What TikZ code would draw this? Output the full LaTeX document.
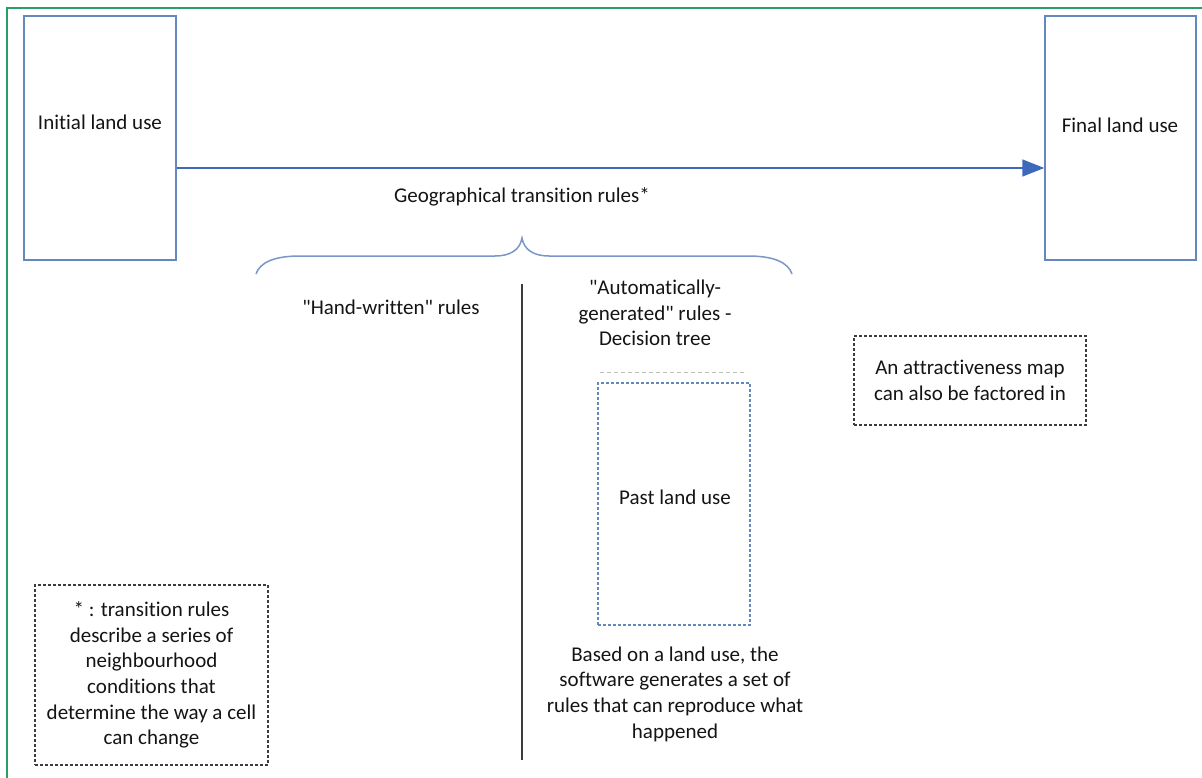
\documentclass[tikz,border=0pt]{standalone}
\usepackage{fontspec}
\setmainfont{Carlito}[Ligatures={TeXOff,CommonOff,ContextualOff}]
\usetikzlibrary{arrows.meta}
\definecolor{frameg}{RGB}{40,160,100}
\definecolor{boxblue}{RGB}{100,135,190}
\definecolor{arrblue}{RGB}{60,105,185}
\definecolor{braceblue}{RGB}{120,150,200}
\definecolor{darkg}{RGB}{60,60,60}
\definecolor{txt}{RGB}{20,20,20}
\tikzset{
  every node/.style={font=\fontsize{21}{25.6}\selectfont, text=txt},
  solidbox/.style={draw=boxblue, line width=1.5pt, minimum width=152pt, minimum height=244pt, inner sep=0pt},
  pastbox/.style={draw=boxblue, line width=1.5pt, dash pattern=on 3pt off 2pt, minimum width=152pt, minimum height=242pt, inner sep=0pt},
  notebox/.style={draw=darkg, line width=1.2pt, dash pattern=on 3pt off 2pt, align=center, inner sep=0pt},
  plain/.style={align=center, inner sep=0pt},
  flow/.style={draw=arrblue, line width=1.5pt, -{Triangle[length=22pt,width=17pt]}},
}
\begin{document}
\begin{tikzpicture}[x=1pt,y=-1pt]
\useasboundingbox (0,0) rectangle (1202,778);
% outer frame (left and top only visible)
\draw[frameg, line width=2pt] (7,790) -- (7,8) -- (1215,8);
% main boxes
\node[solidbox] (initbox) at (100,138) {};
\node[plain] (initlbl) at (100,122) {Initial land use};
\node[solidbox, minimum width=151pt] (finalbox) at (1120.5,138) {};
\node[plain] (finallbl) at (1120,125) {Final land use};
\draw[flow] ([yshift=-30pt]initbox.east) -- ([yshift=-30pt]finalbox.west);
\node[plain] (geo) at (522,197) {Geographical transition rules*};
% brace
\draw[braceblue, line width=1.5pt]
  (256,274) .. controls (260,262) and (275,256) .. (300,256)
  -- (495,256) .. controls (510,256) and (520,250) .. (522,238)
  .. controls (524,250) and (534,256) .. (549,256)
  -- (748,256) .. controls (773,256) and (788,262) .. (792,274);
% divider
\coordinate (divtop) at (522,284);
\coordinate (divbot) at (522,760);
\draw[darkg, line width=1.5pt] (divtop) -- (divbot);
\node[plain] (hand) at (391,307) {"Hand-written" rules};
\node[plain] (auto) at (655,313) {"Automatically-\\generated" rules -\\Decision tree};
% faint remnant line
\coordinate (fa) at (600,372);
\coordinate (fb) at (744,372);
\draw[black!25, line width=1pt, dash pattern=on 4pt off 3pt] (fa) -- (fb);
% past land use
\node[pastbox] (pastbox) at (674,504) {};
\node[plain] (pastlbl) at (675,497) {Past land use};
\node[plain] (based) at (675,694) {Based on a land use, the\\software generates a set of\\rules that can reproduce what\\happened};
% note boxes
\node[notebox, minimum width=232pt, minimum height=89pt] (attr) at (970,380.5) {An attractiveness map\\can also be factored in};
\node[notebox, minimum width=233pt, minimum height=180pt] (foot) at (151.5,675) {* : transition rules\\describe a series of\\neighbourhood\\conditions that\\determine the way a cell\\can change};
\end{tikzpicture}
\end{document}
